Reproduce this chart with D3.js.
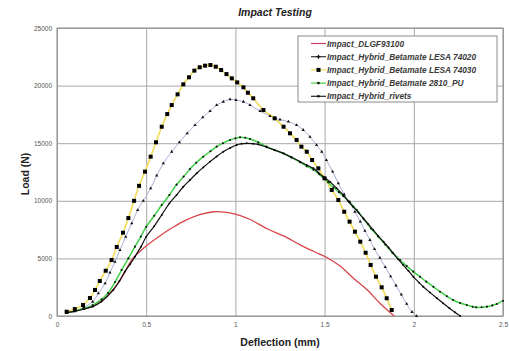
<!DOCTYPE html>
<html>
<head>
<meta charset="utf-8">
<script src="https://cdn.jsdelivr.net/npm/d3@7"></script>
<style>
  body { margin: 0; background: #fff; }
  svg { font-family: "Liberation Sans", Arial, sans-serif; }
</style>
</head>
<body>
<div id="chart"></div>
<script>
// data: [deflection (mm), load (N)]
const dlgf = [[0.05,250],[0.1,430],[0.15,620],[0.2,850],[0.25,1350],[0.3,2050],[0.35,3000],[0.38,3800],[0.42,4900],[0.49,5950],[0.59,7100],[0.65,7700],[0.72,8300],[0.8,8800],[0.88,9050],[0.95,9000],[1.0,8850],[1.08,8400],[1.18,7550],[1.27,6950],[1.36,6200],[1.44,5600],[1.51,5100],[1.59,4300],[1.66,3300],[1.74,2250],[1.81,1100],[1.89,0]];

const lesa74020 = [[0.054,290],[0.1,450],[0.15,750],[0.2,1240],[0.232,1970],[0.27,2840],[0.297,3760],[0.325,4710],[0.353,5730],[0.385,6880],[0.419,8040],[0.452,9200],[0.484,10000],[0.525,11080],[0.559,12180],[0.596,13250],[0.643,14260],[0.686,15080],[0.73,15860],[0.774,16580],[0.817,17250],[0.858,17790],[0.895,18310],[0.932,18600],[0.97,18810],[1.003,18750],[1.045,18600],[1.082,18300],[1.138,17800],[1.194,17350],[1.25,17050],[1.297,16870],[1.343,16580],[1.38,16150],[1.418,15560],[1.455,14840],[1.484,14260],[1.51,13540],[1.545,12530],[1.577,11520],[1.61,10550],[1.64,9900],[1.67,9050],[1.70,8200],[1.726,7400],[1.754,6600],[1.78,5800],[1.81,5050],[1.84,4250],[1.87,3450],[1.90,2650],[1.93,1850],[1.96,1050],[1.99,350],[2.015,0]];

const lesa74030 = [[0.054,370],[0.10,600],[0.146,950],[0.185,1560],[0.213,2260],[0.24,3040],[0.273,3930],[0.306,4860],[0.335,5990],[0.37,7230],[0.40,8500],[0.432,10000],[0.46,11300],[0.493,12530],[0.525,13830],[0.555,15080],[0.587,16430],[0.618,17530],[0.643,18310],[0.676,19240],[0.708,20110],[0.74,20720],[0.77,21300],[0.80,21590],[0.83,21730],[0.86,21790],[0.89,21640],[0.92,21350],[0.95,21000],[0.98,20630],[1.01,20280],[1.045,19850],[1.07,19380],[1.10,18900],[1.157,17880],[1.22,17160],[1.27,16430],[1.306,15860],[1.343,15280],[1.37,14700],[1.40,14260],[1.43,13540],[1.465,12820],[1.50,11950],[1.54,10940],[1.577,10070],[1.61,9050],[1.64,8190],[1.67,7320],[1.70,6450],[1.73,5490],[1.758,4430],[1.788,3410],[1.82,2490],[1.848,1540],[1.876,520]];

const pu2810 = [[0.054,290],[0.1,420],[0.15,650],[0.2,950],[0.25,1450],[0.286,2000],[0.325,2950],[0.362,3990],[0.40,5000],[0.437,6020],[0.47,6900],[0.50,7750],[0.545,8700],[0.587,9630],[0.63,10500],[0.67,11400],[0.71,12100],[0.745,12750],[0.78,13300],[0.82,13830],[0.86,14300],[0.895,14700],[0.93,15000],[0.97,15280],[1.0,15420],[1.026,15510],[1.055,15470],[1.082,15360],[1.128,15080],[1.175,14700],[1.22,14400],[1.27,14100],[1.315,13750],[1.362,13350],[1.40,13000],[1.437,12700],[1.47,12300],[1.493,12000],[1.52,11600],[1.55,11150],[1.58,10750],[1.605,10400],[1.64,9900],[1.68,9200],[1.72,8400],[1.76,7600],[1.80,6900],[1.84,6200],[1.88,5500],[1.923,4860],[1.96,4330],[1.997,3850],[2.035,3400],[2.07,2980],[2.11,2530],[2.147,2110],[2.185,1720],[2.22,1390],[2.26,1130],[2.297,950],[2.33,800],[2.35,750],[2.38,760],[2.41,810],[2.44,920],[2.465,1040],[2.50,1330]];

const rivets = [[0.054,290],[0.1,400],[0.15,600],[0.2,810],[0.25,1250],[0.316,2260],[0.35,3050],[0.38,3850],[0.41,4500],[0.437,5150],[0.47,6000],[0.50,6880],[0.545,7800],[0.587,8770],[0.63,9780],[0.67,10500],[0.708,11220],[0.745,11800],[0.783,12390],[0.82,12900],[0.858,13400],[0.895,13850],[0.932,14260],[0.97,14580],[1.007,14840],[1.035,14950],[1.063,14990],[1.1,14950],[1.128,14900],[1.175,14650],[1.22,14400],[1.27,14120],[1.315,13780],[1.362,13400],[1.40,13100],[1.437,12820],[1.465,12450],[1.493,12090],[1.53,11660],[1.567,11100],[1.605,10500],[1.63,10000],[1.66,9490],[1.69,8980],[1.717,8480],[1.745,7970],[1.773,7460],[1.80,6950],[1.83,6450],[1.858,5950],[1.885,5440],[1.912,4930],[1.94,4430],[1.97,3920],[1.997,3410],[2.03,2900],[2.053,2540],[2.09,2050],[2.13,1540],[2.165,1100],[2.20,670],[2.23,330],[2.26,0]];

const seriesNames = ["Impact_DLGF93100", "Impact_Hybrid_Betamate LESA 74020", "Impact_Hybrid_Betamate LESA 74030", "Impact_Hybrid_Betamate 2810_PU", "Impact_Hybrid_rivets"];
const xTicks = [0, 0.5, 1, 1.5, 2, 2.5];
const yTicks = [0, 5000, 10000, 15000, 20000, 25000];

const W = 509, H = 351;
const margin = {top: 28, right: 6, bottom: 35, left: 57};
const width = W - margin.left - margin.right;
const height = H - margin.top - margin.bottom;

const svg = d3.select("#chart").append("svg")
    .attr("width", W).attr("height", H);
const g = svg.append("g").attr("transform", `translate(${margin.left},${margin.top})`);

const x = d3.scaleLinear().domain([0, 2.5]).range([0, width]);
const y = d3.scaleLinear().domain([0, 25000]).range([height, 0]);

// grid + axes
g.append("g")
  .attr("transform", `translate(0,${height})`)
  .call(d3.axisBottom(x).tickValues(xTicks).tickSize(-height).tickPadding(6).tickFormat(d3.format("")))
  .call(a => a.select(".domain").remove())
  .call(a => a.selectAll("line").attr("stroke", "#a8a8a8"))
  .call(a => a.selectAll("text").attr("fill", "#555").style("font-size", "6.5px"));

g.append("g")
  .call(d3.axisLeft(y).tickValues(yTicks).tickSize(-width).tickPadding(5).tickFormat(d3.format("d")))
  .call(a => a.select(".domain").remove())
  .call(a => a.selectAll("line").attr("stroke", "#a8a8a8"))
  .call(a => a.selectAll("text").attr("fill", "#555").style("font-size", "6.5px"));

g.append("rect")
  .attr("width", width).attr("height", height)
  .attr("fill", "none").attr("stroke", "#8a8a8a");

const line = d3.line()
    .x(d => x(d[0])).y(d => y(d[1]))
    .curve(d3.curveCatmullRom);

const series = [
  {data: dlgf,      color: "#d9444a", w: 1.3, marker: null},
  {data: lesa74020, color: "#a9afd6", w: 1,   marker: "triangle"},
  {data: lesa74030, color: "#f2dc55", w: 1.6, marker: "square"},
  {data: pu2810,    color: "#3ecf45", w: 1.5, marker: "dot"},
  {data: rivets,    color: "#111",    w: 1.2, marker: "small"}
];

const plot = g.append("g");

// draw order: back to front
[1, 2, 0, 3, 4].forEach(i => {
  const s = series[i];
  plot.append("path")
    .datum(s.data)
    .attr("fill", "none")
    .attr("stroke", s.color)
    .attr("stroke-width", s.w)
    .attr("d", line);
});

function drawMarkers(sel, s) {
  if (s.marker === "square") {
    sel.selectAll("rect.m").data(s.data).join("rect")
      .attr("x", d => x(d[0]) - 2).attr("y", d => y(d[1]) - 2)
      .attr("width", 4).attr("height", 4).attr("fill", "#000");
  } else if (s.marker === "triangle") {
    sel.selectAll("path.m").data(s.data).join("path")
      .attr("transform", d => `translate(${x(d[0])},${y(d[1])})`)
      .attr("d", d3.symbol(d3.symbolTriangle, 4.5))
      .attr("fill", "#111");
  } else if (s.marker === "dot") {
    sel.selectAll("circle.m").data(s.data).join("circle")
      .attr("cx", d => x(d[0])).attr("cy", d => y(d[1]))
      .attr("r", 1.05).attr("fill", "#111");
  } else if (s.marker === "small") {
    sel.selectAll("circle.m").data(s.data).join("circle")
      .attr("cx", d => x(d[0])).attr("cy", d => y(d[1]))
      .attr("r", 0.95).attr("fill", "#000");
  }
}

[1, 2, 3, 4].forEach(i => drawMarkers(plot.append("g"), series[i]));

// title + axis titles
svg.append("text")
  .attr("x", 275).attr("y", 16)
  .attr("text-anchor", "middle")
  .style("font-size", "10.5px").style("font-weight", "bold").style("font-style", "italic")
  .attr("fill", "#222")
  .text("Impact Testing");

svg.append("text")
  .attr("x", 280).attr("y", 346)
  .attr("text-anchor", "middle")
  .style("font-size", "10.5px").style("font-weight", "bold")
  .attr("fill", "#222")
  .text("Deflection (mm)");

svg.append("text")
  .attr("transform", "translate(29,174) rotate(-90)")
  .attr("text-anchor", "middle")
  .style("font-size", "10.5px").style("font-weight", "bold")
  .attr("fill", "#222")
  .text("Load (N)");

// legend
const leg = svg.append("g").attr("transform", "translate(298,36)");
leg.append("rect")
  .attr("width", 199).attr("height", 66)
  .attr("fill", "#fff").attr("stroke", "#8a8a8a");

seriesNames.forEach((name, i) => {
  const s = series[i];
  const row = leg.append("g").attr("transform", `translate(0,${7.5 + i * 13.2})`);
  row.append("line")
    .attr("x1", 13).attr("x2", 28).attr("y1", 0).attr("y2", 0)
    .attr("stroke", i === 0 ? "#c8406a" : (i === 1 ? "#333" : (i === 4 ? "#222" : s.color)))
    .attr("stroke-width", 1.2);
  const mg = row.append("g").attr("transform", "translate(20.5,0)");
  if (s.marker === "square") mg.append("rect").attr("x", -2).attr("y", -2).attr("width", 4).attr("height", 4).attr("fill", "#000");
  if (s.marker === "triangle") mg.append("path").attr("d", d3.symbol(d3.symbolCross, 9)).attr("fill", "#111");
  if (s.marker === "dot" || s.marker === "small") mg.append("circle").attr("r", 1.3).attr("fill", "#111");
  row.append("text")
    .attr("x", 29).attr("y", 3)
    .style("font-size", "8.3px").style("font-weight", "bold").style("font-style", "italic")
    .attr("fill", "#3a3a3a")
    .text(name);
});
</script>
</body>
</html>
